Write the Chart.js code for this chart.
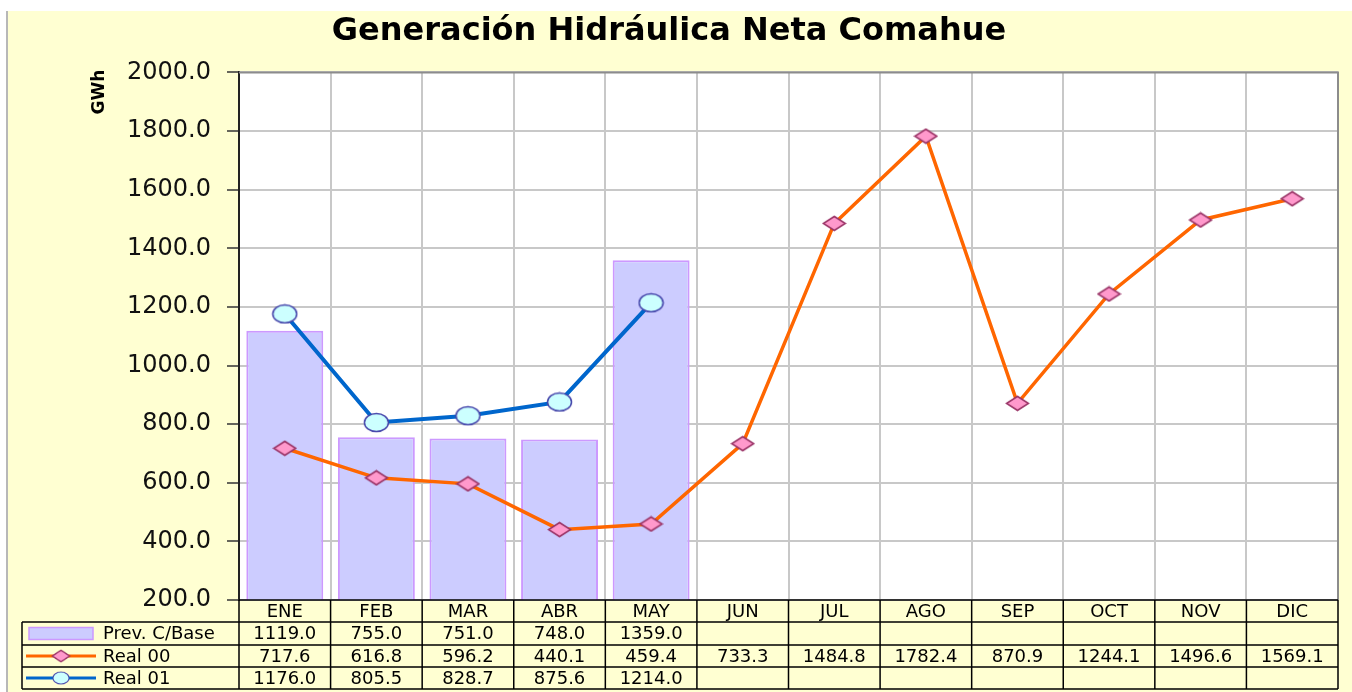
<!DOCTYPE html>
<html>
<head>
<meta charset="utf-8">
<script src="https://cdn.jsdelivr.net/npm/chart.js@4.4.0/dist/chart.umd.min.js"></script>
<style>
  body { margin: 0; background: #fff; }
  canvas { display: block; }
</style>
</head>
<body>
<canvas id="myChart" width="1352" height="692"></canvas>
<script>
// datos del grafico
const months = ['ENE', 'FEB', 'MAR', 'ABR', 'MAY', 'JUN', 'JUL', 'AGO', 'SEP', 'OCT', 'NOV', 'DIC'];
const prevBase = [1119.0, 755.0, 751.0, 748.0, 1359.0, null, null, null, null, null, null, null];
const real00 = [717.6, 616.8, 596.2, 440.1, 459.4, 733.3, 1484.8, 1782.4, 870.9, 1244.1, 1496.6, 1569.1];
const real01 = [1176.0, 805.5, 828.7, 875.6, 1214.0, null, null, null, null, null, null, null];
const seriesNames = ['Prev. C/Base', 'Real 00', 'Real 01'];
const yMin = 200, yMax = 2000, yStep = 200;

const YELLOW = '#FFFFD2';
const FONT = '"DejaVu Sans", Arial, sans-serif';

function makeMarker(w, h, kind, fill, stroke) {
    const c = document.createElement('canvas');
    c.width = w; c.height = h;
    const g = c.getContext('2d');
    g.beginPath();
    if (kind === 'ellipse') {
        g.ellipse(w / 2, h / 2, w / 2 - 1.5, h / 2 - 1.5, 0, 0, Math.PI * 2);
    } else {
        g.moveTo(w / 2, 1.5);
        g.lineTo(w - 1.5, h / 2);
        g.lineTo(w / 2, h - 1.5);
        g.lineTo(1.5, h / 2);
        g.closePath();
    }
    g.fillStyle = fill;
    g.fill();
    g.lineWidth = 1.5;
    g.strokeStyle = stroke;
    g.stroke();
    return c;
}

const diamond = makeMarker(25, 17, 'diamond', '#FF99CC', '#993366');
const ellipse = makeMarker(27, 21, 'ellipse', '#CCFFFF', '#4444AA');

const backgroundPlugin = {
    id: 'fondo',
    beforeDraw(chart) {
        const ctx = chart.ctx;
        const ca = chart.chartArea;
        ctx.save();
        ctx.fillStyle = '#fff';
        ctx.fillRect(0, 0, chart.width, chart.height);
        ctx.fillStyle = YELLOW;
        ctx.fillRect(8, 11, chart.width - 8, chart.height - 11);
        ctx.fillStyle = '#b8b8b8';
        ctx.fillRect(6, 11, 2, chart.height - 11);
        ctx.fillStyle = '#fff';
        ctx.fillRect(ca.left, ca.top, ca.right - ca.left, ca.bottom - ca.top);
        ctx.restore();
    },
    afterDatasetsDraw(chart) {
        const ctx = chart.ctx;
        const ca = chart.chartArea;
        ctx.save();
        ctx.strokeStyle = '#8c8c8c';
        ctx.lineWidth = 2;
        ctx.beginPath();
        ctx.moveTo(ca.left, ca.top);
        ctx.lineTo(ca.right, ca.top);
        ctx.lineTo(ca.right, ca.bottom);
        ctx.stroke();
        // titulo del eje
        ctx.translate(100, 92);
        ctx.rotate(-Math.PI / 2);
        ctx.fillStyle = '#000';
        ctx.font = 'bold 17px ' + FONT;
        ctx.textAlign = 'center';
        ctx.textBaseline = 'middle';
        ctx.fillText('GWh', 0, 0);
        ctx.restore();
    }
};

const tablePlugin = {
    id: 'tablaDatos',
    afterDraw(chart) {
        const ctx = chart.ctx;
        const ca = chart.chartArea;
        const xs = chart.scales.x;
        const colW = (ca.right - ca.left) / months.length;
        const rows = [ca.bottom, ca.bottom + 22, ca.bottom + 45, ca.bottom + 67, ca.bottom + 89];
        const tableLeft = 22;
        const rowData = [prevBase, real00, real01];

        ctx.save();
        ctx.strokeStyle = '#000';
        ctx.lineWidth = 1.5;
        ctx.beginPath();
        ctx.moveTo(ca.left, rows[0]);
        ctx.lineTo(ca.right, rows[0]);
        for (let r = 1; r < rows.length; r++) {
            ctx.moveTo(tableLeft, rows[r]);
            ctx.lineTo(ca.right, rows[r]);
        }
        ctx.moveTo(tableLeft, rows[1]);
        ctx.lineTo(tableLeft, rows[4]);
        for (let i = 0; i <= months.length; i++) {
            const x = ca.left + i * colW;
            ctx.moveTo(x, rows[0]);
            ctx.lineTo(x, rows[4]);
        }
        ctx.stroke();

        ctx.fillStyle = '#000';
        ctx.font = '18px ' + FONT;
        ctx.textAlign = 'center';
        ctx.textBaseline = 'middle';
        months.forEach((m, i) => {
            const x = xs.getPixelForValue(i);
            ctx.fillText(m, x, (rows[0] + rows[1]) / 2 + 1);
            rowData.forEach((serie, r) => {
                if (serie[i] !== null) {
                    ctx.fillText(serie[i].toFixed(1), x, (rows[r + 1] + rows[r + 2]) / 2 + 1);
                }
            });
        });

        // leyenda dentro de la tabla
        ctx.textAlign = 'left';
        let y = (rows[1] + rows[2]) / 2;
        ctx.fillStyle = '#CCCCFF';
        ctx.fillRect(29, y - 6, 64, 12);
        ctx.strokeStyle = '#CC99FF';
        ctx.lineWidth = 1.5;
        ctx.strokeRect(29, y - 6, 64, 12);
        ctx.fillStyle = '#000';
        ctx.fillText(seriesNames[0], 103, y + 1);

        y = (rows[2] + rows[3]) / 2;
        ctx.strokeStyle = '#FF6600';
        ctx.lineWidth = 3;
        ctx.beginPath();
        ctx.moveTo(26, y);
        ctx.lineTo(96, y);
        ctx.stroke();
        ctx.drawImage(diamond, 61 - 10, y - 7, 20, 14);
        ctx.fillText(seriesNames[1], 103, y + 1);

        y = (rows[3] + rows[4]) / 2;
        ctx.strokeStyle = '#0066CC';
        ctx.beginPath();
        ctx.moveTo(26, y);
        ctx.lineTo(96, y);
        ctx.stroke();
        ctx.drawImage(ellipse, 61 - 9, y - 7, 18, 14);
        ctx.fillText(seriesNames[2], 103, y + 1);
        ctx.restore();
    }
};

const ctx = document.getElementById('myChart');

const chartData = {
    labels: months,
    datasets: [
        {
            type: 'line',
            label: seriesNames[2],
            data: real01,
            borderColor: '#0066CC',
            borderWidth: 4,
            pointStyle: ellipse,
            tension: 0,
            order: 1
        },
        {
            type: 'line',
            label: seriesNames[1],
            data: real00,
            borderColor: '#FF6600',
            borderWidth: 3.5,
            pointStyle: diamond,
            tension: 0,
            order: 2
        },
        {
            type: 'bar',
            label: seriesNames[0],
            data: prevBase,
            backgroundColor: '#CCCCFF',
            borderColor: '#CC99FF',
            borderWidth: 2,
            barPercentage: 0.84,
            categoryPercentage: 1.0,
            order: 3
        }
    ]
};

const chartOptions = {
    responsive: false,
    animation: false,
    layout: {
        padding: { left: 0, right: 14, top: 0, bottom: 92 }
    },
    plugins: {
        legend: { display: false },
        tooltip: { enabled: false },
        title: {
            display: true,
            text: 'Generación Hidráulica Neta Comahue',
            color: '#000',
            font: { family: FONT, size: 32, weight: 'bold' },
            padding: { top: 12, bottom: 22 }
        }
    },
    scales: {
        x: {
            offset: true,
            grid: {
                offset: true,
                color: '#c8c8c8',
                lineWidth: 2,
                drawTicks: false
            },
            border: { display: false },
            ticks: { display: false },
            afterFit(scale) { scale.height = 0; }
        },
        y: {
            min: yMin,
            max: yMax,
            grid: {
                color: '#c8c8c8',
                lineWidth: 2,
                tickLength: 12,
                tickColor: '#333',
                tickWidth: 1.5
            },
            border: { color: '#222', width: 2 },
            ticks: {
                stepSize: yStep,
                color: '#111',
                padding: 16,
                font: { family: FONT, size: 24 },
                callback: v => v.toFixed(1)
            },
            afterFit(scale) { scale.width = 239; }
        }
    }
};

new Chart(ctx, {
    type: 'bar',
    data: chartData,
    options: chartOptions,
    plugins: [backgroundPlugin, tablePlugin]
});
</script>
</body>
</html>
